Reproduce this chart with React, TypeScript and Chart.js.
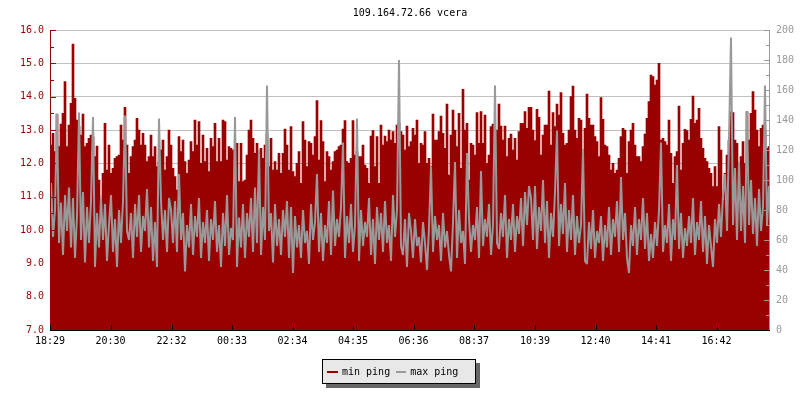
import React, { useEffect, useRef } from "react";
import { Chart, registerables } from "chart.js";

Chart.register(...registerables);

const titleText = "109.164.72.66 vcera";
const seriesNames = ["min ping", "max ping"];
const minutesPerPoint = 4;
const tickMinutes = [0, 121, 243, 364, 485, 606, 727, 848, 970, 1091, 1212, 1333];
const tickLabels = ["18:29", "20:30", "22:32", "00:33", "02:34", "04:35", "06:36", "08:37", "10:39", "12:40", "14:41", "16:42"];

// min ping (ms, left axis)
const minPing = [
  12.55, 12.9, 12.35, 13.48, 12.5, 13.18, 13.5, 14.45, 12.5, 13.15,
  13.8, 15.58, 13.95, 13.3, 13.1, 12.85, 13.48, 12.5, 12.6, 12.75,
  12.85, 12.8, 12.2, 12.52, 11.5, 10.7, 11.7, 13.2, 11.8, 12.55,
  11.7, 11.85, 12.15, 12.2, 12.25, 13.15, 12.7, 13.68, 12.55, 11.7,
  12.2, 12.5, 12.7, 13.35, 13.0, 12.55, 12.9, 12.55, 12.05, 12.2,
  12.85, 12.2, 12.5, 11.9, 12.05, 12.4, 12.7, 11.8, 12.2, 13.0,
  12.55, 11.85, 11.6, 11.2, 12.8, 12.35, 12.7, 12.05, 11.7, 12.1,
  12.65, 12.35, 13.3, 12.55, 13.25, 12.0, 12.85, 12.05, 12.45, 11.75,
  12.75, 12.5, 13.2, 12.05, 12.75, 12.05, 13.3, 13.25, 12.1, 12.5,
  12.45, 12.4, 11.8, 12.6, 11.45, 12.6, 11.45, 11.5, 12.25, 13.0,
  13.3, 12.75, 12.3, 12.6, 12.2, 12.45, 12.15, 12.55, 12.88, 11.9,
  12.75, 11.8, 12.05, 11.8, 12.3, 11.7, 12.3, 13.03, 12.55, 11.8,
  13.1, 11.75, 11.6, 12.0, 12.35, 11.4, 13.25, 12.7, 11.9, 12.65,
  12.6, 12.25, 12.8, 13.88, 12.1, 13.28, 12.65, 11.45, 12.35, 12.2,
  11.8, 12.05, 12.35, 12.4, 12.5, 12.55, 13.03, 13.28, 12.05, 12.0,
  12.15, 13.28, 12.25, 12.35, 12.2, 12.2, 12.55, 11.95, 11.85, 11.4,
  12.82, 12.98, 11.9, 12.8, 11.4, 13.15, 12.55, 12.82, 12.65, 13.0,
  12.7, 12.95, 12.6, 13.15, 13.2, 12.95, 12.85, 12.4, 13.12, 12.5,
  12.65, 13.05, 12.85, 13.3, 12.0, 12.6, 12.55, 12.95, 12.0, 12.15,
  11.9, 13.48, 12.7, 12.7, 12.95, 13.42, 12.9, 12.45, 13.78, 11.65,
  12.85, 13.6, 13.0, 12.5, 13.5, 11.85, 14.22, 13.0, 13.2, 11.5,
  12.6, 12.55, 12.25, 13.52, 12.6, 13.55, 12.6, 13.45, 12.0, 12.25,
  13.1, 13.18, 12.5, 13.0, 13.78, 13.12, 12.7, 13.12, 12.2, 12.75,
  12.88, 12.4, 12.75, 12.1, 12.95, 13.2, 13.2, 13.55, 13.05, 13.68,
  13.68, 13.0, 12.68, 13.62, 13.38, 12.25, 12.85, 13.15, 13.15, 14.17,
  12.55, 13.52, 13.1, 13.78, 13.45, 14.12, 12.9, 12.55, 12.6, 13.0,
  14.0, 14.32, 13.0, 12.75, 13.35, 13.3, 12.4, 13.05, 14.08, 13.35,
  13.15, 13.15, 12.8, 12.65, 12.2, 13.97, 13.32, 12.55, 12.5, 12.25,
  11.8, 12.0, 11.7, 11.8, 12.15, 12.8, 13.05, 13.0, 11.7, 12.65,
  13.0, 13.2, 12.55, 12.2, 12.2, 12.05, 12.5, 12.88, 13.35, 13.85,
  14.65, 14.6, 14.35, 14.5, 15.0, 12.7, 12.75, 12.65, 12.55, 13.3,
  12.3, 11.4, 12.2, 12.35, 13.72, 11.8, 12.6, 13.02, 12.98, 12.7,
  13.32, 14.02, 13.2, 13.3, 13.65, 12.75, 12.45, 12.15, 12.05, 11.85,
  11.7, 11.3, 11.9, 11.3, 13.1, 12.4, 10.9, 11.7, 12.25, 12.7,
  13.55, 13.52, 12.7, 12.6, 12.0, 12.2, 12.65, 12.0, 13.55, 12.7,
  13.5, 14.15, 13.6, 13.0, 12.5, 13.05, 13.15, 13.0, 12.45, 12.5,
];

// max ping (ms, right axis)
const maxPing = [
  98, 62, 80, 144, 58, 85, 50, 90, 66, 95,
  55, 88, 48, 76, 145, 60, 92, 45, 82, 58,
  86, 142, 42, 78, 55, 88, 60, 84, 46, 70,
  90, 52, 74, 42, 80, 58, 86, 143, 66, 60,
  78, 48, 84, 62, 90, 52, 76, 66, 94, 55,
  82, 46, 72, 42, 141, 86, 60, 80, 52, 88,
  80, 58, 86, 52, 104, 60, 78, 39, 70, 55,
  84, 50, 76, 62, 88, 48, 72, 58, 80, 46,
  74, 60, 86, 52, 70, 42, 78, 56, 90, 50,
  68, 60, 142, 42, 75, 55, 84, 48, 78, 62,
  88, 52, 95, 58, 120, 50, 82, 60, 163, 66,
  78, 45, 84, 56, 74, 50, 80, 62, 86, 48,
  82, 38, 76, 55, 70, 48, 80, 58, 66, 44,
  84, 60, 72, 104, 52, 78, 46, 70, 58, 86,
  50, 93, 56, 74, 62, 82, 125, 48, 76, 58,
  84, 52, 70, 141, 46, 80, 56, 72, 62, 88,
  50, 74, 44, 82, 60, 78, 52, 86, 58, 70,
  46, 90, 62, 80, 180, 56, 50, 74, 42, 78,
  66, 48, 74, 56, 62, 45, 72, 58, 40, 68,
  109, 52, 76, 60, 70, 46, 78, 55, 66, 50,
  39, 72, 112, 48, 80, 58, 66, 44, 118, 74,
  52, 70, 60, 82, 48, 106, 56, 74, 62, 84,
  50, 70, 163, 58, 54, 78, 62, 90, 48, 74,
  60, 84, 52, 76, 64, 88, 56, 92, 70, 96,
  88, 60, 96, 54, 82, 66, 100, 58, 86, 48,
  78, 62, 92, 133, 56, 84, 64, 98, 52, 80,
  60, 90, 50, 76, 58, 70, 120, 46, 44, 72,
  54, 80, 48, 66, 58, 76, 46, 70, 55, 82,
  50, 74, 62, 86, 52, 102, 60, 78, 48, 38,
  70, 56, 82, 50, 74, 60, 88, 54, 78, 46,
  64, 48, 72, 56, 80, 125, 52, 70, 58, 84,
  46, 74, 60, 110, 54, 78, 48, 68, 56, 76,
  58, 88, 50, 72, 60, 86, 52, 76, 44, 70,
  56, 42, 74, 58, 84, 62, 90, 104, 66, 127,
  195, 70, 108, 60, 112, 66, 96, 58, 146, 70,
  100, 64, 88, 56, 94, 66, 82, 163, 70, 96,
];

const RED = "#990000";
const GRAY = "#999999";
const FONT = "'DejaVu Sans Mono', monospace";

const axisDeco = {
  id: "axisDeco",
  afterDatasetsDraw(chart: any) {
    const { ctx, chartArea: a, scales } = chart;
    ctx.save();
    ctx.lineWidth = 1;
    // left axis
    ctx.strokeStyle = RED;
    ctx.beginPath();
    ctx.moveTo(a.left + 0.5, a.top);
    ctx.lineTo(a.left + 0.5, a.bottom);
    const ys = scales.y;
    for (let k = 0; k <= 18; k++) {
      const v = ys.min + k * 0.5;
      const y = Math.round(ys.getPixelForValue(v)) + 0.5;
      const len = k % 2 === 0 ? 5 : 3;
      ctx.moveTo(a.left, y);
      ctx.lineTo(a.left + len + 1, y);
    }
    ctx.stroke();
    // right axis
    ctx.strokeStyle = GRAY;
    ctx.beginPath();
    ctx.moveTo(a.right - 0.5, a.top);
    ctx.lineTo(a.right - 0.5, a.bottom);
    const y1 = scales.y1;
    for (let k = 0; k <= 20; k++) {
      const v = y1.min + k * 10;
      const y = Math.round(y1.getPixelForValue(v)) + 0.5;
      const len = k % 2 === 0 ? 5 : 3;
      ctx.moveTo(a.right, y);
      ctx.lineTo(a.right - len - 1, y);
    }
    ctx.stroke();
    // bottom axis
    ctx.strokeStyle = "#000000";
    ctx.beginPath();
    ctx.moveTo(a.left, a.bottom + 0.5);
    ctx.lineTo(a.right, a.bottom + 0.5);
    const xs = scales.x;
    for (const m of tickMinutes) {
      const x = Math.round(xs.getPixelForValue(m)) + 0.5;
      ctx.moveTo(x, a.bottom + 1);
      ctx.lineTo(x, a.bottom - 5);
    }
    ctx.stroke();
    ctx.restore();
  },
};

export default function App() {
  const ref = useRef<HTMLCanvasElement | null>(null);

  useEffect(() => {
    if (!ref.current) return;
    const chart = new Chart(ref.current, {
      type: "bar",
      data: {
        datasets: [
          {
            type: "line",
            label: seriesNames[1],
            data: maxPing.map((v, i) => ({ x: i * minutesPerPoint + minutesPerPoint / 2, y: v })),
            yAxisID: "y1",
            borderColor: GRAY,
            borderWidth: 2,
            borderJoinStyle: "bevel",
            pointRadius: 0,
            tension: 0,
            fill: false,
            order: 0,
          } as any,
          {
            type: "bar",
            label: seriesNames[0],
            data: minPing.map((v, i) => ({ x: i * minutesPerPoint + minutesPerPoint / 2, y: v })),
            yAxisID: "y",
            backgroundColor: RED,
            borderWidth: 0,
            barPercentage: 1,
            categoryPercentage: 1,
            order: 1,
          } as any,
        ],
      },
      options: {
        animation: false,
        responsive: false,
        maintainAspectRatio: false,
        layout: { padding: { top: 30, left: 0, right: 0, bottom: 0 } },
        plugins: {
          legend: { display: false },
          title: { display: false },
          tooltip: { enabled: false },
        },
        scales: {
          x: {
            type: "linear",
            offset: false,
            min: 0,
            max: minPing.length * minutesPerPoint,
            grid: { display: false, drawTicks: false },
            border: { display: false },
            afterBuildTicks: (s: any) => {
              s.ticks = tickMinutes.map((v) => ({ value: v }));
            },
            afterFit: (s: any) => {
              s.height = 70;
            },
            ticks: {
              autoSkip: false,
              maxRotation: 0,
              padding: 5,
              color: "#000000",
              font: { family: FONT, size: 10 },
              callback: (_v: any, i: number) => tickLabels[i],
            },
          },
          y: {
            type: "linear",
            position: "left",
            min: 7,
            max: 16,
            grid: { color: "#c0c0c0", drawTicks: false, lineWidth: 1 },
            border: { display: false },
            afterFit: (s: any) => {
              s.width = 50;
            },
            ticks: {
              stepSize: 1,
              padding: 6,
              color: RED,
              font: { family: FONT, size: 10 },
              callback: (v: any) => Number(v).toFixed(1),
            },
          },
          y1: {
            type: "linear",
            position: "right",
            min: 0,
            max: 200,
            grid: { display: false, drawTicks: false },
            border: { display: false },
            afterFit: (s: any) => {
              s.width = 30;
            },
            ticks: {
              stepSize: 20,
              padding: 6,
              color: GRAY,
              font: { family: FONT, size: 10 },
            },
          },
        },
      },
      plugins: [axisDeco],
    });
    return () => chart.destroy();
  }, []);

  return (
    <div style={{ position: "fixed", left: 0, top: 0, width: 800, height: 400, background: "#ffffff" }}>
      <canvas ref={ref} width={800} height={400} style={{ position: "absolute", left: 0, top: 0 }} />
      <div
        style={{
          position: "absolute",
          left: 50,
          width: 720,
          top: 7,
          textAlign: "center",
          fontFamily: FONT,
          fontSize: 10,
          lineHeight: "12px",
          color: "#000",
        }}
      >
        {titleText}
      </div>
      <div
        style={{
          position: "absolute",
          left: 322,
          top: 359,
          width: 154,
          height: 25,
          boxSizing: "border-box",
          background: "#e8e8e8",
          border: "1px solid #000",
          boxShadow: "4px 4px 0 #666666",
          display: "flex",
          alignItems: "center",
          fontFamily: FONT,
          fontSize: 10,
          color: "#000",
          whiteSpace: "nowrap",
        }}
      >
        <span style={{ display: "inline-block", width: 11, height: 2, background: RED, marginLeft: 4, marginRight: 4 }} />
        <span>{seriesNames[0]}</span>
        <span style={{ display: "inline-block", width: 10, height: 2, background: GRAY, marginLeft: 6, marginRight: 4 }} />
        <span>{seriesNames[1]}</span>
      </div>
    </div>
  );
}
